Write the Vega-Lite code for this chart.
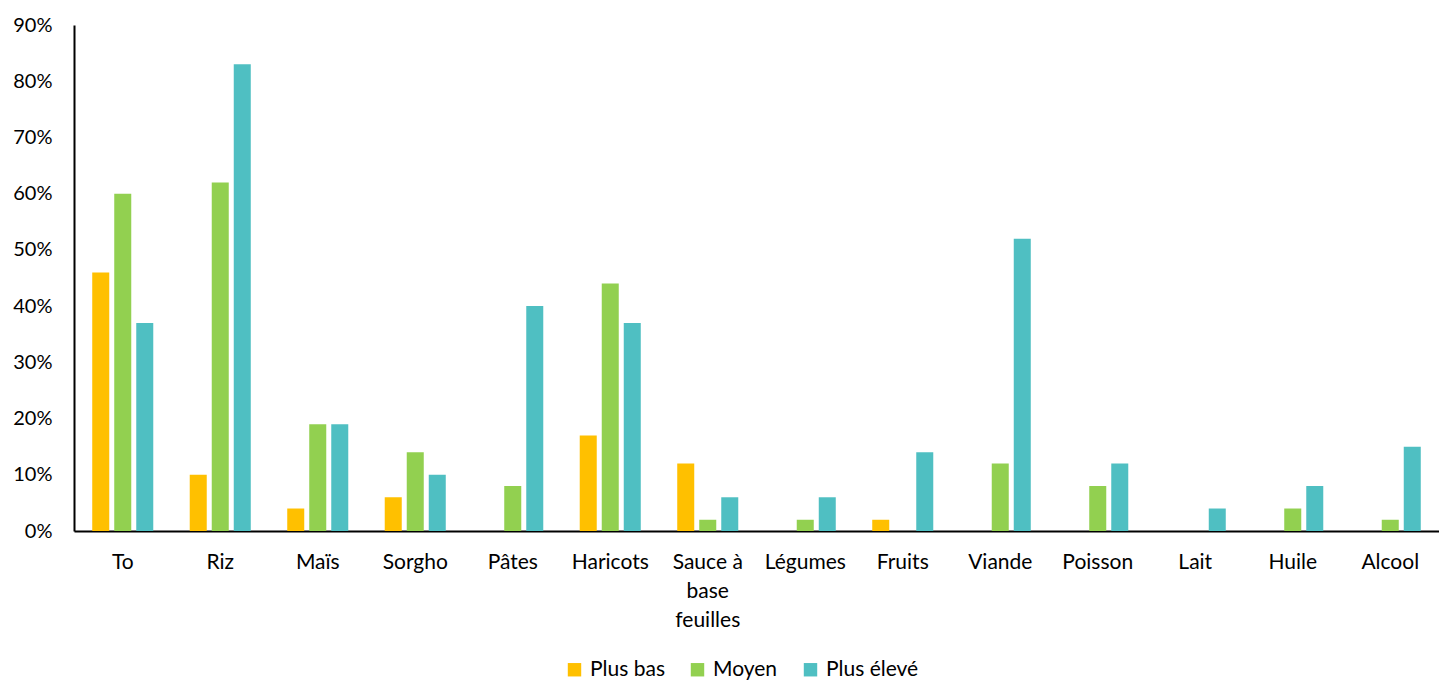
{
  "$schema": "https://vega.github.io/schema/vega-lite/v6.json",
  "autosize": {"type": "none"},
  "padding": {"left": 74, "top": 25, "right": 0, "bottom": 152},
  "width": 1365,
  "height": 506,
  "background": "white",
  "config": {
    "font": "Lato",
    "view": {"stroke": null}
  },
  "data": {
    "values": [
      {"aliment": "To", "groupe": "Plus bas", "part": 0.46},
      {"aliment": "To", "groupe": "Moyen", "part": 0.60},
      {"aliment": "To", "groupe": "Plus élevé", "part": 0.37},
      {"aliment": "Riz", "groupe": "Plus bas", "part": 0.10},
      {"aliment": "Riz", "groupe": "Moyen", "part": 0.62},
      {"aliment": "Riz", "groupe": "Plus élevé", "part": 0.83},
      {"aliment": "Maïs", "groupe": "Plus bas", "part": 0.04},
      {"aliment": "Maïs", "groupe": "Moyen", "part": 0.19},
      {"aliment": "Maïs", "groupe": "Plus élevé", "part": 0.19},
      {"aliment": "Sorgho", "groupe": "Plus bas", "part": 0.06},
      {"aliment": "Sorgho", "groupe": "Moyen", "part": 0.14},
      {"aliment": "Sorgho", "groupe": "Plus élevé", "part": 0.10},
      {"aliment": "Pâtes", "groupe": "Plus bas", "part": 0.0},
      {"aliment": "Pâtes", "groupe": "Moyen", "part": 0.08},
      {"aliment": "Pâtes", "groupe": "Plus élevé", "part": 0.40},
      {"aliment": "Haricots", "groupe": "Plus bas", "part": 0.17},
      {"aliment": "Haricots", "groupe": "Moyen", "part": 0.44},
      {"aliment": "Haricots", "groupe": "Plus élevé", "part": 0.37},
      {"aliment": "Sauce à base feuilles", "groupe": "Plus bas", "part": 0.12},
      {"aliment": "Sauce à base feuilles", "groupe": "Moyen", "part": 0.02},
      {"aliment": "Sauce à base feuilles", "groupe": "Plus élevé", "part": 0.06},
      {"aliment": "Légumes", "groupe": "Plus bas", "part": 0.0},
      {"aliment": "Légumes", "groupe": "Moyen", "part": 0.02},
      {"aliment": "Légumes", "groupe": "Plus élevé", "part": 0.06},
      {"aliment": "Fruits", "groupe": "Plus bas", "part": 0.02},
      {"aliment": "Fruits", "groupe": "Moyen", "part": 0.0},
      {"aliment": "Fruits", "groupe": "Plus élevé", "part": 0.14},
      {"aliment": "Viande", "groupe": "Plus bas", "part": 0.0},
      {"aliment": "Viande", "groupe": "Moyen", "part": 0.12},
      {"aliment": "Viande", "groupe": "Plus élevé", "part": 0.52},
      {"aliment": "Poisson", "groupe": "Plus bas", "part": 0.0},
      {"aliment": "Poisson", "groupe": "Moyen", "part": 0.08},
      {"aliment": "Poisson", "groupe": "Plus élevé", "part": 0.12},
      {"aliment": "Lait", "groupe": "Plus bas", "part": 0.0},
      {"aliment": "Lait", "groupe": "Moyen", "part": 0.0},
      {"aliment": "Lait", "groupe": "Plus élevé", "part": 0.04},
      {"aliment": "Huile", "groupe": "Plus bas", "part": 0.0},
      {"aliment": "Huile", "groupe": "Moyen", "part": 0.04},
      {"aliment": "Huile", "groupe": "Plus élevé", "part": 0.08},
      {"aliment": "Alcool", "groupe": "Plus bas", "part": 0.0},
      {"aliment": "Alcool", "groupe": "Moyen", "part": 0.02},
      {"aliment": "Alcool", "groupe": "Plus élevé", "part": 0.15}
    ]
  },
  "mark": {"type": "bar"},
  "encoding": {
    "x": {
      "field": "aliment",
      "type": "nominal",
      "sort": null,
      "title": null,
      "scale": {"paddingInner": 0.374, "paddingOuter": 0.187},
      "axis": {
        "labelAngle": 0,
        "labelFontSize": 21,
        "labelColor": "#000000",
        "labelPadding": 20,
        "labelBaseline": "top",
        "labelLineHeight": 29,
        "labelLimit": 0,
        "ticks": false,
        "domainColor": "#000000",
        "domainWidth": 2,
        "labelExpr": "datum.label == 'Sauce à base feuilles' ? ['Sauce à', 'base', 'feuilles'] : datum.label"
      }
    },
    "xOffset": {
      "field": "groupe",
      "type": "nominal",
      "sort": ["Plus bas", "Moyen", "Plus élevé"],
      "scale": {"paddingInner": 0.227, "paddingOuter": 0}
    },
    "y": {
      "field": "part",
      "type": "quantitative",
      "title": null,
      "stack": null,
      "scale": {"domain": [0, 0.9], "nice": false},
      "axis": {
        "format": ".0%",
        "values": [0, 0.1, 0.2, 0.3, 0.4, 0.5, 0.6, 0.7, 0.8, 0.9],
        "grid": false,
        "ticks": false,
        "labelFontSize": 20,
        "labelColor": "#000000",
        "labelPadding": 22,
        "domainColor": "#000000",
        "domainWidth": 2
      }
    },
    "color": {
      "field": "groupe",
      "type": "nominal",
      "sort": ["Plus bas", "Moyen", "Plus élevé"],
      "scale": {
        "domain": ["Plus bas", "Moyen", "Plus élevé"],
        "range": ["#FFC000", "#92D050", "#4FBFC2"]
      },
      "legend": {
        "title": null,
        "orient": "none",
        "direction": "horizontal",
        "legendX": 490,
        "legendY": 634,
        "symbolType": "square",
        "symbolSize": 180,
        "symbolStrokeWidth": 0,
        "labelFontSize": 21,
        "labelColor": "#000000",
        "labelOffset": 5,
        "columnPadding": 22
      }
    }
  }
}
